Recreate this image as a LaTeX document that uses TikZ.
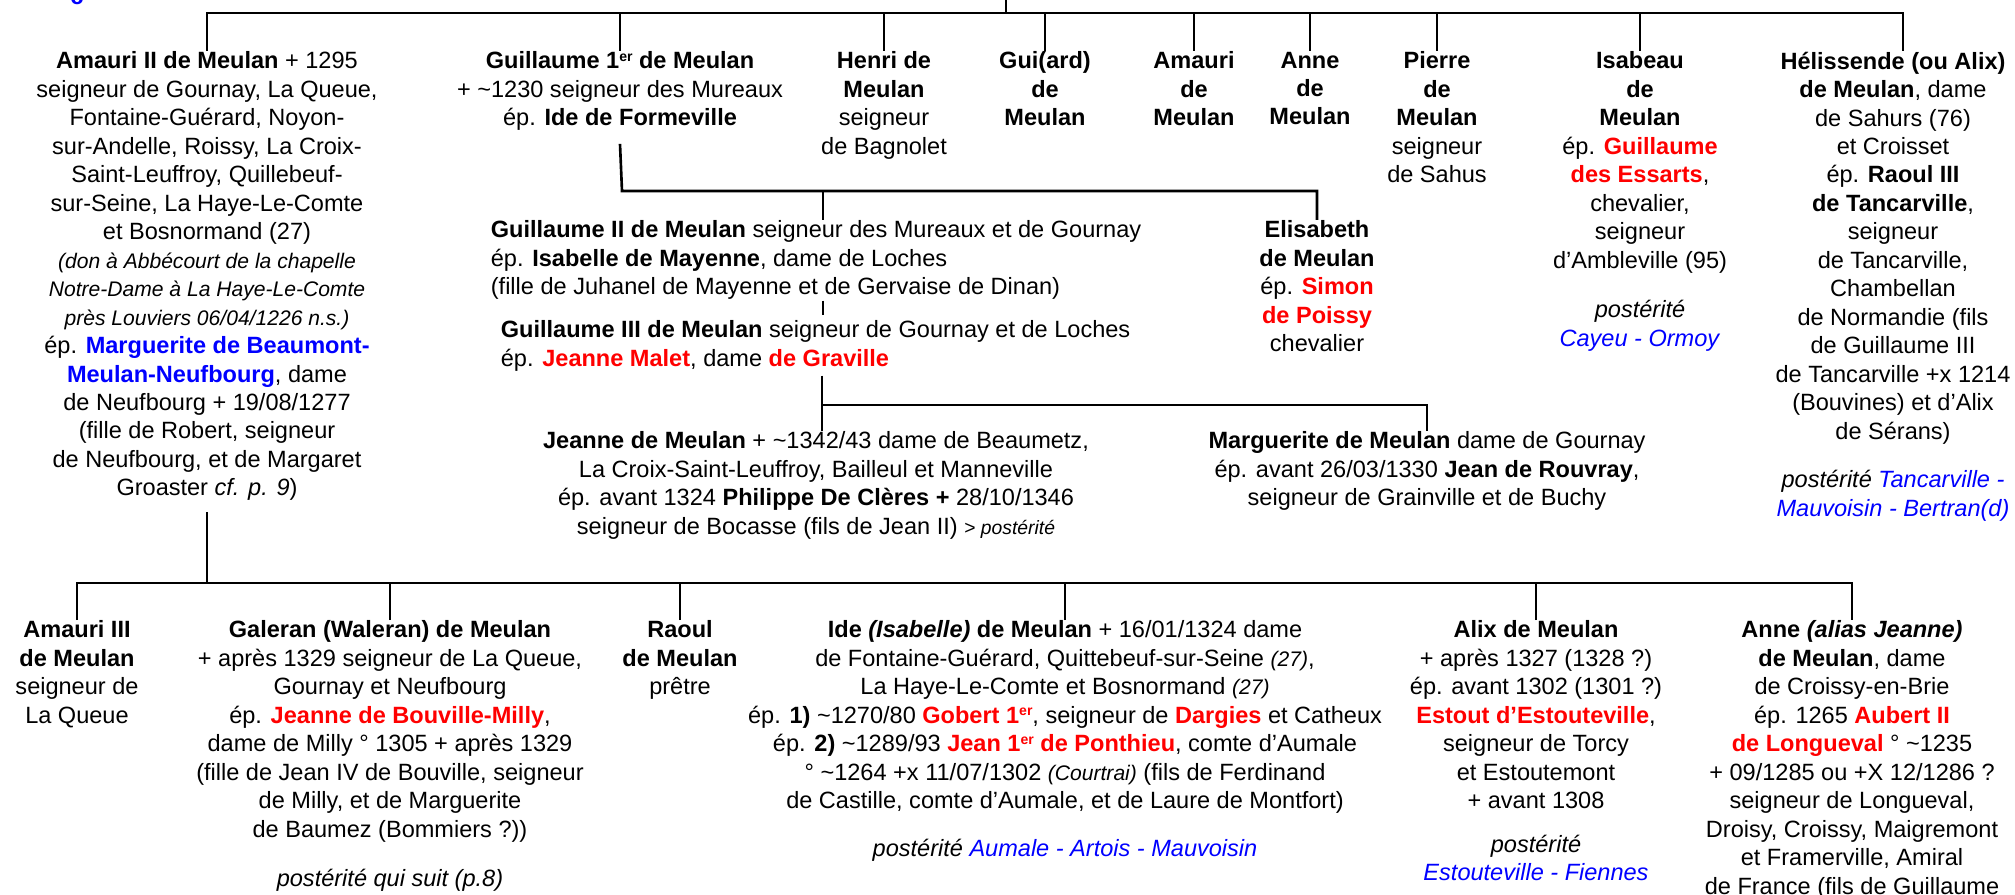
\documentclass[tikz,border=0pt]{standalone}
\usepackage{fontspec}
\setmainfont{Liberation Sans}
\definecolor{rougenom}{RGB}{255,0,0}
\definecolor{bleunom}{RGB}{0,0,255}
\newcommand{\rouge}[1]{\textcolor{rougenom}{\textbf{#1}}}
\newcommand{\bleu}[1]{\textcolor{bleunom}{\textbf{#1}}}
\newcommand{\bleuit}[1]{\textcolor{bleunom}{\textit{#1}}}
\newcommand{\petitit}[1]{{\fontsize{12}{16.2}\selectfont\itshape #1}}
\newcommand{\ier}{1\raisebox{0.62ex}{\fontsize{8}{8}\selectfont er}}
\tikzset{
  pers/.style={align=center, anchor=north, inner sep=0pt, outer sep=0.5pt,
    font=\fontsize{13.4}{16.2}\selectfont},
  persg/.style={pers, align=left, anchor=north west},
  lien/.style={line width=1.5pt}
}
\begin{document}
\begin{tikzpicture}[x=0.02cm,y=-0.02cm]
\useasboundingbox (0,0) rectangle (2015,895);
\node[text=bleunom, inner sep=0pt, font=\bfseries\fontsize{13.4}{16.2}\selectfont, anchor=south] (fragment) at (77,5) {c};

\node[pers] (amauriII) at (207,51) {\textbf{Amauri II de Meulan} + 1295\\
  seigneur de Gournay, La Queue,\\ Fontaine-Guérard, Noyon-\\
  sur-Andelle, Roissy, La Croix-\\ Saint-Leuffroy, Quillebeuf-\\
  sur-Seine, La Haye-Le-Comte\\ et Bosnormand (27)\\
  \petitit{(don à Abbécourt de la chapelle}\\
  \petitit{Notre-Dame à La Haye-Le-Comte}\\
  \petitit{près Louviers 06/04/1226 n.s.)}\\
  ép. \bleu{Marguerite de Beaumont-}\\ \bleu{Meulan-Neufbourg}, dame\\
  de Neufbourg + 19/08/1277\\ (fille de Robert, seigneur\\
  de Neufbourg, et de Margaret\\ Groaster \textit{cf. p. 9})};
\node[pers] (guillaumeI) at (620,51) {\textbf{Guillaume \ier\ de Meulan}\\
  + \textasciitilde1230 seigneur des Mureaux\\ ép. \textbf{Ide de Formeville}};
\node[pers] (henri) at (884,51) {\textbf{Henri de}\\ \textbf{Meulan}\\ seigneur\\ de Bagnolet};
\node[pers] (guiard) at (1045,51) {\textbf{Gui(ard)}\\ \textbf{de}\\ \textbf{Meulan}};
\node[pers] (amauri) at (1194,51) {\textbf{Amauri}\\ \textbf{de}\\ \textbf{Meulan}};
\node[pers] (anne) at (1310,51) {\textbf{Anne}\\ \textbf{de}\\ \textbf{Meulan}};
\node[pers] (pierre) at (1437,51) {\textbf{Pierre}\\ \textbf{de}\\ \textbf{Meulan}\\ seigneur\\ de Sahus};
\node[pers] (isabeau) at (1640,51) {\textbf{Isabeau}\\ \textbf{de}\\ \textbf{Meulan}\\
  ép. \rouge{Guillaume}\\ \rouge{des Essarts},\\ chevalier,\\ seigneur\\
  d’Ambleville (95)\\[0.42cm] \textit{postérité}\\ \bleuit{Cayeu - Ormoy}};
\node[pers] (helissende) at (1893,51) {\textbf{Hélissende (ou Alix)}\\
  \textbf{de Meulan}, dame\\ de Sahurs (76)\\ et Croisset\\ ép. \textbf{Raoul III}\\
  \textbf{de Tancarville},\\ seigneur\\ de Tancarville,\\ Chambellan\\
  de Normandie (fils\\ de Guillaume III\\ de Tancarville +x 1214\\
  (Bouvines) et d’Alix\\ de Sérans)\\[0.4cm]
  \textit{postérité} \bleuit{Tancarville -}\\ \bleuit{Mauvoisin - Bertran(d)}};

\node[persg] (guillaumeII) at (490,220) {\textbf{Guillaume II de Meulan} seigneur des Mureaux et de Gournay\\
  ép. \textbf{Isabelle de Mayenne}, dame de Loches\\
  (fille de Juhanel de Mayenne et de Gervaise de Dinan)};
\node[persg] (guillaumeIII) at (500,320) {\textbf{Guillaume III de Meulan} seigneur de Gournay et de Loches\\
  ép. \rouge{Jeanne Malet}, dame \rouge{de Graville}};
\node[pers] (elisabeth) at (1317,220) {\textbf{Elisabeth}\\ \textbf{de Meulan}\\
  ép. \rouge{Simon}\\ \rouge{de Poissy}\\ chevalier};
\node[pers] (jeanne) at (816,431) {\textbf{Jeanne de Meulan} + \textasciitilde1342/43 dame de Beaumetz,\\
  La Croix-Saint-Leuffroy, Bailleul et Manneville\\
  ép. avant 1324 \textbf{Philippe De Clères +} 28/10/1346\\
  seigneur de Bocasse (fils de Jean II) {\fontsize{11}{16.2}\selectfont > \textit{postérité}}};
\node[pers] (marguerite) at (1427,431) {\textbf{Marguerite de Meulan} dame de Gournay\\
  ép. avant 26/03/1330 \textbf{Jean de Rouvray},\\ seigneur de Grainville et de Buchy};

\node[pers] (amauriIII) at (77,620) {\textbf{Amauri III}\\ \textbf{de Meulan}\\ seigneur de\\ La Queue};
\node[pers] (galeran) at (390,620) {\textbf{Galeran (Waleran) de Meulan}\\
  + après 1329 seigneur de La Queue,\\ Gournay et Neufbourg\\
  ép. \rouge{Jeanne de Bouville-Milly},\\ dame de Milly ° 1305 + après 1329\\
  (fille de Jean IV de Bouville, seigneur\\ de Milly, et de Marguerite\\
  de Baumez (Bommiers ?))\\[0.42cm] \textit{postérité qui suit (p.8)}};
\node[pers] (raoul) at (680,620) {\textbf{Raoul}\\ \textbf{de Meulan}\\ prêtre};
\node[pers] (ide) at (1065,620) {\textbf{Ide \textit{(Isabelle)} de Meulan} + 16/01/1324 dame\\
  de Fontaine-Guérard, Quittebeuf-sur-Seine \petitit{(27)},\\
  La Haye-Le-Comte et Bosnormand \petitit{(27)}\\
  ép. \textbf{1)} \textasciitilde1270/80 \rouge{Gobert \ier}, seigneur de \rouge{Dargies} et Catheux\\
  ép. \textbf{2)} \textasciitilde1289/93 \rouge{Jean \ier\ de Ponthieu}, comte d’Aumale\\
  ° \textasciitilde1264 +x 11/07/1302 \petitit{(Courtrai)} (fils de Ferdinand\\
  de Castille, comte d’Aumale, et de Laure de Montfort)\\[0.39cm]
  \textit{postérité} \bleuit{Aumale - Artois - Mauvoisin}};
\node[pers] (alix) at (1536,620) {\textbf{Alix de Meulan}\\ + après 1327 (1328 ?)\\
  ép. avant 1302 (1301 ?)\\ \rouge{Estout d’Estouteville},\\ seigneur de Torcy\\
  et Estoutemont\\ + avant 1308\\[0.3cm] \textit{postérité}\\ \bleuit{Estouteville - Fiennes}};
\node[pers] (anneJ) at (1852,620) {\textbf{Anne \textit{(alias Jeanne)}}\\ \textbf{de Meulan}, dame\\
  de Croissy-en-Brie\\ ép. 1265 \rouge{Aubert II}\\ \rouge{de Longueval} ° \textasciitilde1235\\
  + 09/1285 ou +X 12/1286 ?\\ seigneur de Longueval,\\ Droisy, Croissy, Maigremont\\
  et Framerville, Amiral\\ de France (fils de Guillaume};

\coordinate (haut) at (1006,13);
\coordinate (fratrie2) at (622,191);
\coordinate (g2) at (823,191);
\coordinate (g3) at (822,405);
\coordinate (fratrie3) at (204,583);

\draw[lien] (haut) -- ++(0,-15);
\draw[lien] (amauriII.north) |- (haut) -| ([xshift=0.2cm]helissende.north);
\foreach \n in {guillaumeI,henri,guiard,amauri,anne,pierre,isabeau}
  \draw[lien] (\n.north) -- (\n.north |- haut);

\draw[lien] ([yshift=-7pt]guillaumeI.south) -- (fratrie2) -| (elisabeth.north);
\draw[lien] (g2) -- (g2 |- guillaumeII.north);
\draw[lien] (g2 |- guillaumeII.south) -- ([yshift=3pt]g2 |- guillaumeIII.north);
\draw[lien] ([yshift=-2pt]g3 |- guillaumeIII.south) -- (g3) -| (marguerite.north);
\draw[lien] (g3) -- (g3 |- jeanne.north);

\draw[lien] ([yshift=-6pt]amauriII.south) -- (amauriII.south |- fratrie3);
\draw[lien] (amauriIII.north) |- (fratrie3) -| (anneJ.north);
\foreach \n in {galeran,raoul,ide,alix}
  \draw[lien] (\n.north) -- (\n.north |- fratrie3);
\end{tikzpicture}
\end{document}
